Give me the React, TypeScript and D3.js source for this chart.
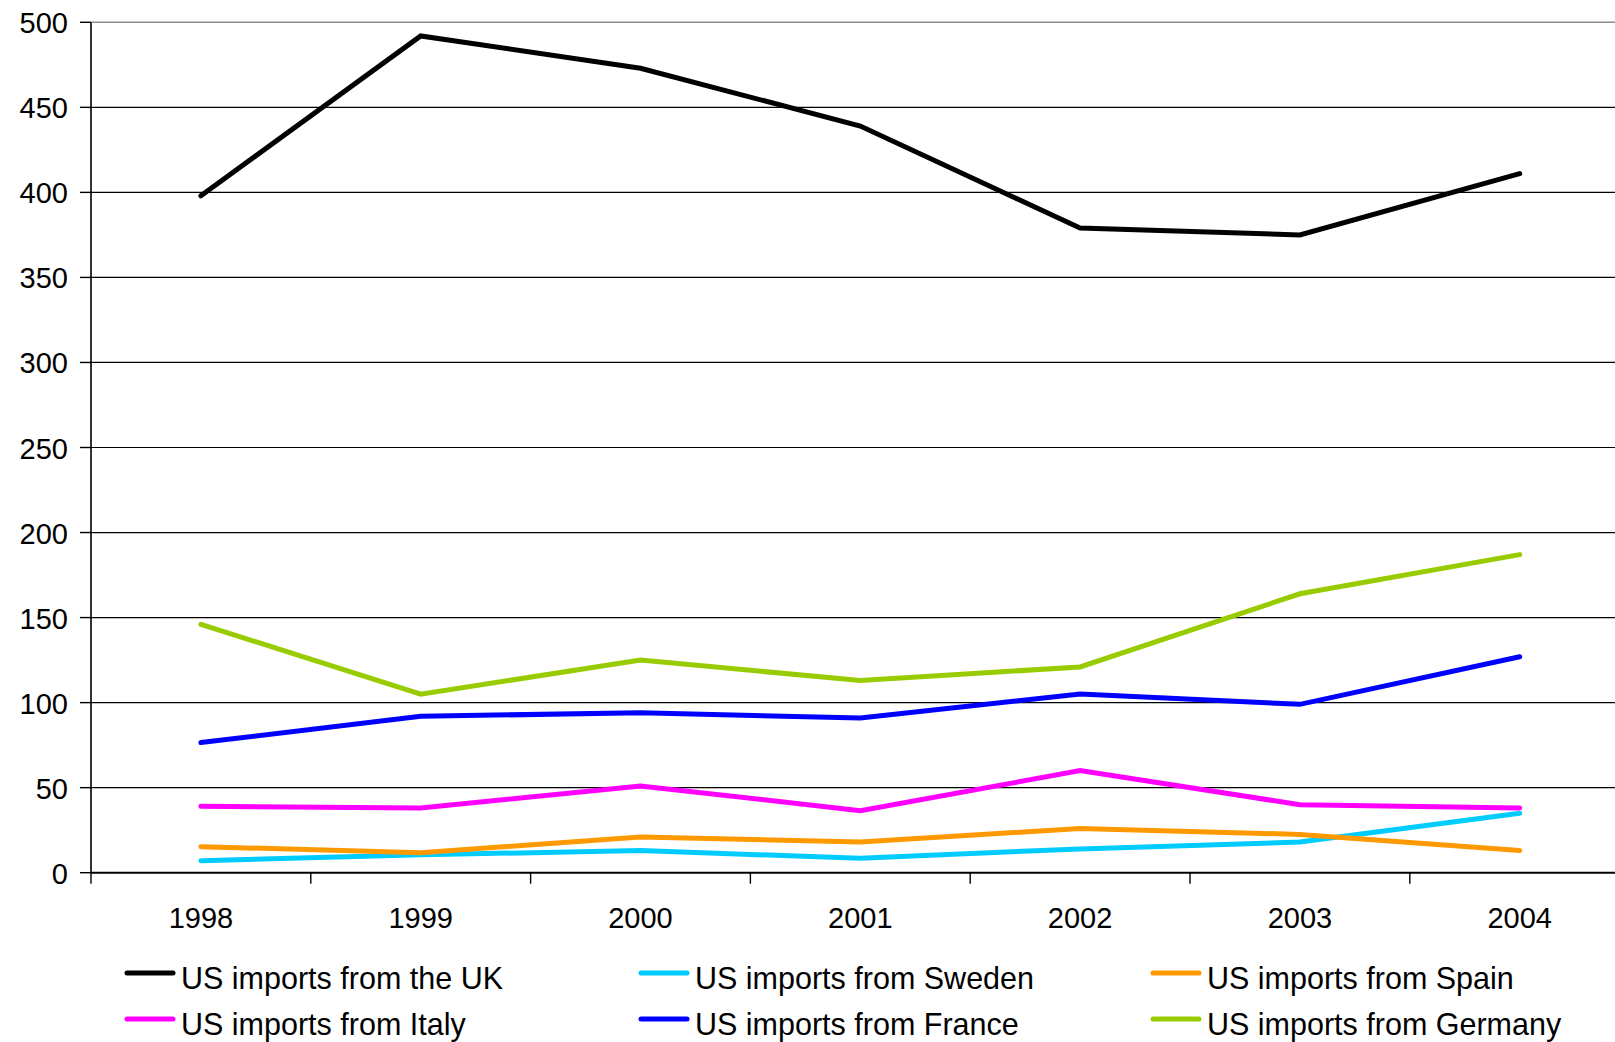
import React from "react";
import * as d3 from "d3";

const years = ["1998", "1999", "2000", "2001", "2002", "2003", "2004"];
const yTicks = [0, 50, 100, 150, 200, 250, 300, 350, 400, 450, 500];

const ukValues = [398, 492, 473, 439, 379, 375, 411];
const swedenValues = [7, 10.5, 13, 8.5, 14, 18, 35];
const spainValues = [15.3, 11.8, 21, 18, 26, 22.5, 13];
const italyValues = [39, 38, 51, 36.5, 60, 40, 38];
const franceValues = [76.5, 92, 94, 91, 105, 99, 127];
const germanyValues = [146, 105, 125, 113, 121, 164, 187];

const seriesNames = [
  "US imports from the UK",
  "US imports from Sweden",
  "US imports from Spain",
  "US imports from Italy",
  "US imports from France",
  "US imports from Germany",
];
const seriesColors = ["#000000", "#00CCFF", "#FF9900", "#FF00FF", "#0000FF", "#99CC00"];
const seriesValues = [ukValues, swedenValues, spainValues, italyValues, franceValues, germanyValues];

const W = 1615;
const H = 1042;
const FONT = "'Liberation Sans', Arial, sans-serif";

export default function App() {
  const left = 91;
  const right = 1629.6;
  const top = 22.3;
  const bottom = 872.7;

  const x = d3.scaleBand<string>().domain(years).range([left, right]).padding(0);
  const y = d3.scaleLinear().domain([0, 500]).range([bottom, top]);
  const cx = (yr: string) => (x(yr) as number) + x.bandwidth() / 2;

  const line = d3
    .line<number>()
    .x((_, i) => cx(years[i]))
    .y((v) => y(v));

  const xTickPositions = [...years.map((yr) => x(yr) as number), right];

  const legendCols = [127, 641, 1153];
  const legendRows = [973, 1019];

  return (
    <svg
      width={W}
      height={H}
      style={{ position: "absolute", left: 0, top: 0, background: "#fff" }}
      fontFamily={FONT}
    >
      <rect x={0} y={0} width={W} height={H} fill="#fff" />
      {yTicks
        .filter((t) => t > 0 && t < 500)
        .map((t) => (
          <line key={"g" + t} x1={left} x2={W} y1={y(t)} y2={y(t)} stroke="#000" strokeWidth={1.2} />
        ))}
      <line x1={left} x2={W} y1={y(500)} y2={y(500)} stroke="#8c8c8c" strokeWidth={1.6} />
      <line x1={left} x2={left} y1={top} y2={bottom} stroke="#000" strokeWidth={1.6} />
      {yTicks.map((t) => (
        <g key={"yt" + t}>
          <line x1={left - 11} x2={left} y1={y(t)} y2={y(t)} stroke="#000" strokeWidth={1.4} />
          <text x={68} y={y(t) + 11} textAnchor="end" fontSize={29} fill="#000">
            {t}
          </text>
        </g>
      ))}
      <line x1={left} x2={W} y1={bottom} y2={bottom} stroke="#000" strokeWidth={2} />
      {xTickPositions.map((p, i) => (
        <line key={"xt" + i} x1={p} x2={p} y1={bottom} y2={bottom + 11} stroke="#000" strokeWidth={1.4} />
      ))}
      {years.map((yr) => (
        <text key={"xl" + yr} x={cx(yr)} y={928} textAnchor="middle" fontSize={29} fill="#000">
          {yr}
        </text>
      ))}
      {seriesValues.map((vals, i) => (
        <path
          key={"s" + i}
          d={line(vals) || ""}
          fill="none"
          stroke={seriesColors[i]}
          strokeWidth={5}
          strokeLinecap="round"
          strokeLinejoin="miter"
        />
      ))}
      {seriesNames.map((name, i) => {
        const col = i % 3;
        const row = Math.floor(i / 3);
        const lx = legendCols[col];
        const ly = legendRows[row];
        return (
          <g key={"lg" + i}>
            <line x1={lx} x2={lx + 46} y1={ly} y2={ly} stroke={seriesColors[i]} strokeWidth={5} strokeLinecap="round" />
            <text x={lx + 54} y={ly + 16} fontSize={30.5} fill="#000">
              {name}
            </text>
          </g>
        );
      })}
    </svg>
  );
}
